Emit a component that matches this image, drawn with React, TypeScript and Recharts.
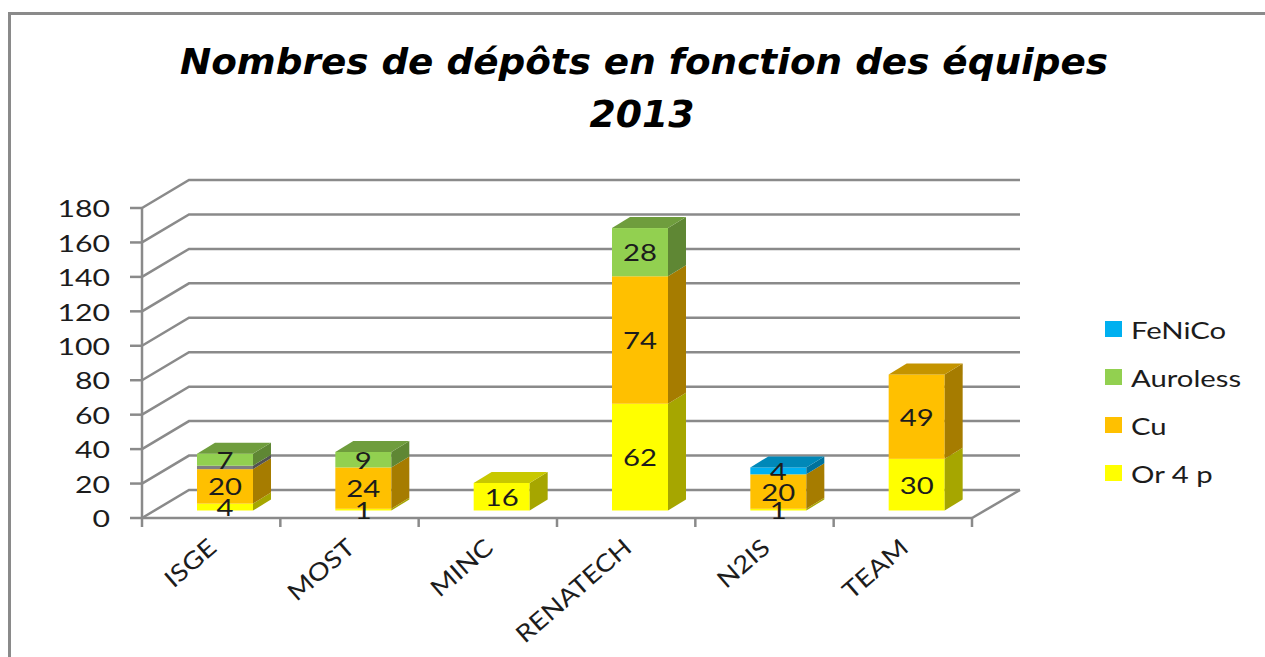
import { BarChart, Bar, XAxis, YAxis, CartesianGrid, Legend, LabelList } from 'recharts';

const categories = ['ISGE', 'MOST', 'MINC', 'RENATECH', 'N2IS', 'TEAM'];
const or4p = [4, 1, 16, 62, 1, 30];
const cu = [20, 24, null, 74, 20, 49];
const autre = [2, null, null, null, null, null];
const auroless = [7, 9, null, 28, null, null];
const fenico = [null, null, null, null, 4, null];
const yTicks = [0, 20, 40, 60, 80, 100, 120, 140, 160, 180];

const chartData = categories.map((name, i) => ({
  name,
  or4p: or4p[i],
  cu: cu[i],
  autre: autre[i],
  auroless: auroless[i],
  fenico: fenico[i],
}));

const stackOrder = ['or4p', 'cu', 'autre', 'auroless', 'fenico'];
const FONT = 'Lato, "Open Sans", sans-serif';
const GRID = '#8a8a8a';
const TEXT = '#1c1c1c';
const STRETCH = 1.22;

// the wall sits behind the axes, the bars stand in the middle of the floor
const WALL_DX = 47;
const WALL_DY = -28;
const BAR_DX = 14;
const BAR_DY = -7.5;
const DEPTH_DX = 18;
const DEPTH_DY = -11;
const BAND = (972 - 142) / categories.length;

function barShape(key: string, side: string, top: string) {
  return (props: any) => {
    const { x, y, width, height, fill, payload } = props;
    if (!height || height <= 0) return <g />;
    const x0 = x + BAR_DX;
    const y0 = y + BAR_DY;
    const isTop = [...stackOrder].reverse().find((k) => payload[k]) === key;
    return (
      <g>
        <rect x={x0} y={y0} width={width} height={height} fill={fill} />
        <polygon
          points={`${x0 + width},${y0} ${x0 + width + DEPTH_DX},${y0 + DEPTH_DY} ${x0 + width + DEPTH_DX},${y0 + DEPTH_DY + height} ${x0 + width},${y0 + height}`}
          fill={side}
        />
        {isTop && (
          <polygon
            points={`${x0},${y0} ${x0 + DEPTH_DX},${y0 + DEPTH_DY} ${x0 + width + DEPTH_DX},${y0 + DEPTH_DY} ${x0 + width},${y0}`}
            fill={top}
          />
        )}
      </g>
    );
  };
}

function valueLabel(props: any) {
  const { x, y, width, height, value } = props;
  if (!value) return <g />;
  const cx = x + BAR_DX + width / 2;
  const cy = y + BAR_DY + height / 2;
  return (
    <text
      transform={`translate(${cx},${cy}) scale(${STRETCH},1)`}
      textAnchor="middle"
      dominantBaseline="central"
      fontFamily={FONT}
      fontSize={24}
      fill={TEXT}
    >
      {value}
    </text>
  );
}

function wallLine(props: any) {
  const { x1, y1, x2, key } = props;
  const isFloor = Math.abs(y1 - 518) < 1;
  return (
    <g key={key}>
      <polyline
        points={`${x1},${y1} ${x1 + WALL_DX},${y1 + WALL_DY} ${x2 + WALL_DX + 1},${y1 + WALL_DY}`}
        fill="none"
        stroke={GRID}
        strokeWidth={2.5}
      />
      {isFloor && (
        <line x1={x2} y1={y1} x2={x2 + WALL_DX + 1} y2={y1 + WALL_DY} stroke={GRID} strokeWidth={2.5} />
      )}
    </g>
  );
}

function yTick(props: any) {
  const { y, payload } = props;
  return (
    <text
      transform={`translate(110,${y}) scale(1.26,1)`}
      textAnchor="end"
      dominantBaseline="central"
      fontFamily={FONT}
      fontSize={24}
      fill={TEXT}
    >
      {payload.value}
    </text>
  );
}

function xTick(props: any) {
  const { x, y, payload, index } = props;
  return (
    <g>
      <line x1={x - BAND / 2} y1={518} x2={x - BAND / 2} y2={527} stroke={GRID} strokeWidth={2.5} />
      {index === categories.length - 1 && (
        <line x1={x + BAND / 2} y1={518} x2={x + BAND / 2} y2={527} stroke={GRID} strokeWidth={2.5} />
      )}
      <text
        transform={`translate(${x + 1},${y + 25}) rotate(-41) scale(1.16,1)`}
        textAnchor="end"
        dominantBaseline="central"
        fontFamily={FONT}
        fontSize={24}
        fill={TEXT}
      >
        {payload.value}
      </text>
    </g>
  );
}

function legendContent(props: any) {
  const items = [...(props.payload || [])].filter((item: any) => item.type !== 'none').reverse();
  return (
    <div>
      {items.map((item: any) => (
        <div key={item.value} style={{ display: 'flex', alignItems: 'center', height: 48 }}>
          <span style={{ width: 17, height: 16, background: item.color, marginRight: 9 }} />
          <span
            style={{
              fontFamily: FONT,
              fontSize: 24,
              color: TEXT,
              display: 'inline-block',
              transform: `scaleX(${STRETCH})`,
              transformOrigin: 'left center',
              whiteSpace: 'nowrap',
            }}
          >
            {item.value}
          </span>
        </div>
      ))}
    </div>
  );
}

export default function App() {
  return (
    <div style={{ position: 'absolute', left: 0, top: 0, width: 1265, height: 657, overflow: 'hidden', background: '#fff' }}>
      <div style={{ position: 'absolute', left: 8, top: 12, width: 1265, height: 657, borderLeft: '3px solid #8a8a8a', borderTop: '3px solid #8a8a8a' }} />
      <div style={{ position: 'absolute', left: 0, top: 0 }}>
        <BarChart
          width={1265}
          height={657}
          data={chartData}
          margin={{ top: 208, right: 293, bottom: 0, left: 0 }}
          barSize={56}
        >
          <text
            x={644}
            y={74}
            textAnchor="middle"
            textLength={928}
            lengthAdjust="spacingAndGlyphs"
            fontFamily='"DejaVu Sans", sans-serif'
            fontWeight="bold"
            fontStyle="italic"
            fontSize={36}
            fill="#000"
          >
            Nombres de dépôts en fonction des équipes
          </text>
          <text
            x={642}
            y={127}
            textAnchor="middle"
            textLength={105}
            lengthAdjust="spacingAndGlyphs"
            fontFamily='"DejaVu Sans", sans-serif'
            fontWeight="bold"
            fontStyle="italic"
            fontSize={37}
            fill="#000"
          >
            2013
          </text>
          <CartesianGrid vertical={false} horizontal={wallLine} />
          <XAxis
            dataKey="name"
            height={139}
            interval={0}
            stroke={GRID}
            strokeWidth={2.5}
            tickLine={false}
            tickSize={0}
            tickMargin={0}
            tick={xTick}
          />
          <YAxis
            width={142}
            domain={[0, 180]}
            ticks={yTicks}
            stroke={GRID}
            strokeWidth={2.5}
            tickSize={12}
            tick={yTick}
          />
          <Legend
            verticalAlign="middle"
            align="center"
            layout="vertical"
            itemSorter={null}
            content={legendContent}
            wrapperStyle={{ left: 1105, top: 305, width: 150 }}
          />
          <Bar dataKey="or4p" name="Or 4 p" stackId="a" fill="#FFFF00" isAnimationActive={false} shape={barShape('or4p', '#A6A600', '#C8C800')}>
            <LabelList dataKey="or4p" content={valueLabel} />
          </Bar>
          <Bar dataKey="cu" name="Cu" stackId="a" fill="#FFC000" isAnimationActive={false} shape={barShape('cu', '#A67C00', '#C49400')}>
            <LabelList dataKey="cu" content={valueLabel} />
          </Bar>
          <Bar dataKey="autre" stackId="a" fill="#7F7F7F" legendType="none" isAnimationActive={false} shape={barShape('autre', '#525252', '#666666')} />
          <Bar dataKey="auroless" name="Auroless" stackId="a" fill="#92D050" isAnimationActive={false} shape={barShape('auroless', '#5F8734', '#6F9D3D')}>
            <LabelList dataKey="auroless" content={valueLabel} />
          </Bar>
          <Bar dataKey="fenico" name="FeNiCo" stackId="a" fill="#00B0F0" isAnimationActive={false} shape={barShape('fenico', '#00729C', '#0088B8')}>
            <LabelList dataKey="fenico" content={valueLabel} />
          </Bar>
        </BarChart>
      </div>
    </div>
  );
}
